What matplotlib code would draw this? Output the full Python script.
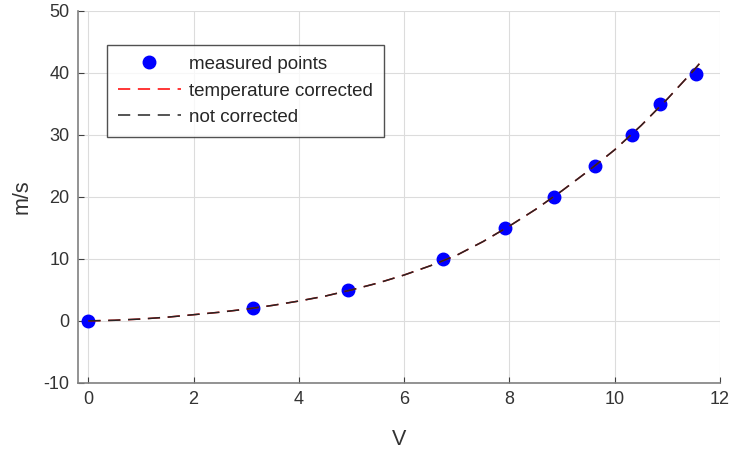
import numpy as np
import matplotlib.pyplot as plt

plt.rcParams['font.family'] = ['Liberation Sans', 'DejaVu Sans']
plt.rcParams['axes.unicode_minus'] = False

# measured points
volts = [0.0, 3.13, 4.94, 6.73, 7.92, 8.85, 9.63, 10.33, 10.86, 11.54]
speed = [0.0, 2.0, 5.0, 10.0, 15.0, 20.0, 25.0, 30.0, 35.0, 39.8]

# fitted curves
fit_v = [0.0, 0.5, 1.0, 1.5, 2.0, 2.5, 3.0, 3.5, 4.0, 4.5, 5.0, 5.5, 6.0,
         6.5, 7.0, 7.5, 8.0, 8.5, 9.0, 9.5, 10.0, 10.5, 11.0, 11.5, 11.7]
fit_temp = [0.0, 0.1, 0.3, 0.6, 1.0, 1.4, 1.9, 2.5, 3.2, 4.0, 5.0, 6.1, 7.4,
            8.9, 10.6, 12.8, 15.3, 18.0, 21.0, 24.2, 27.6, 31.5, 35.8, 40.4, 42.4]
fit_raw = [0.0, 0.1, 0.3, 0.6, 1.0, 1.4, 1.9, 2.5, 3.2, 4.0, 5.0, 6.1, 7.4,
           8.9, 10.6, 12.8, 15.3, 18.0, 21.0, 24.2, 27.6, 31.5, 35.8, 40.4, 42.4]

fig = plt.figure(figsize=(7.34, 4.51), dpi=100)
ax = fig.add_axes([0.106, 0.151, 0.875, 0.825])

ax.plot(volts, speed, 'o', color='#0000ff', ms=9, label='measured points', zorder=2)
ax.plot(fit_v, fit_temp, '--', color='#ff0000', lw=1.1, dashes=(8, 5), label='temperature corrected', zorder=3)
ax.plot(fit_v, fit_raw, '--', color='#262626', lw=1.1, dashes=(8, 5), label='not corrected', zorder=4)

ax.set_xlim(-0.2, 12)
ax.set_ylim(-10, 50)
ax.set_xticks(range(0, 13, 2))
ax.set_yticks(range(-10, 51, 10))
ax.grid(True, color='#dcdcdc', lw=0.8)
ax.set_axisbelow(True)
for s in ['top', 'right']:
    ax.spines[s].set_visible(False)
for s in ['left', 'bottom']:
    ax.spines[s].set_color('#808080')
    ax.spines[s].set_linewidth(1.2)
ax.tick_params(direction='in', length=4, color='#404040', labelsize=13, labelcolor='#333333', pad=6)
ax.set_xlabel('V', fontsize=15.5, color='#333333', labelpad=15)
ax.set_ylabel('m/s', fontsize=15.5, color='#333333', labelpad=8)

leg = ax.legend(loc='upper left', bbox_to_anchor=(0.045, 0.909), fontsize=13.5,
                handlelength=3.35, handletextpad=0.45, frameon=True, fancybox=False,
                edgecolor='#262626', borderpad=0.6, labelspacing=0.5, borderaxespad=0)
leg.get_frame().set_linewidth(1)
for t in leg.get_texts():
    t.set_color('#262626')

fig.savefig('out.png', dpi=100)
